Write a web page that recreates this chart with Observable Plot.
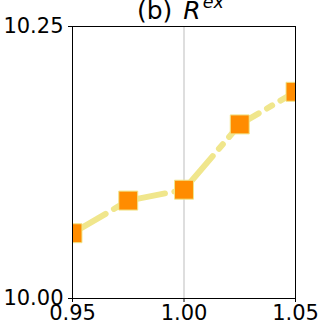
<!DOCTYPE html>
<html>
<head>
<meta charset="utf-8">
<script src="https://cdn.jsdelivr.net/npm/d3@7"></script>
<script src="https://cdn.jsdelivr.net/npm/@observablehq/plot@0.6"></script>
<style>
  html, body { margin: 0; padding: 0; background: #fff; }
  #chart svg { display: block; }
</style>
</head>
<body>
<div id="chart"></div>
<script>
const xValues = [0.95, 0.975, 1.00, 1.025, 1.05];
const yValues = [10.060, 10.090, 10.100, 10.160, 10.190];
const xTicks = [0.95, 1.00, 1.05];
const yTicks = [10.00, 10.25];
const titlePrefix = "(b) ";
const titleMain = "R";
const titleSup = "ex";

const data = xValues.map((x, i) => ({x, y: yValues[i]}));

const chart = Plot.plot({
  width: 320,
  height: 327,
  marginLeft: 72,
  marginRight: 25,
  marginTop: 26,
  marginBottom: 29,
  style: {fontFamily: "DejaVu Sans", fontSize: "21px", color: "#000", background: "#fff", overflow: "visible"},
  x: {domain: [0.95, 1.05], ticks: xTicks, tickFormat: d3.format(".2f"), tickSize: 4, tickPadding: 3, label: null},
  y: {domain: [10.00, 10.25], ticks: yTicks, tickFormat: d3.format(".2f"), tickSize: 4, tickPadding: 5, label: null},
  marks: [
    Plot.ruleX([1.00], {stroke: "#d3d3d3", strokeWidth: 1.5}),
    Plot.line(data, {x: "x", y: "y", stroke: "#F0E68C", strokeWidth: 6, strokeDasharray: "38.4,9.6,6,9.6", clip: true}),
    Plot.dot(data, {x: "x", y: "y", symbol: "square", r: 10.7, fill: "#FF8C00", stroke: "#F0E68C", strokeWidth: 1, clip: true}),
    Plot.frame({stroke: "#000", strokeWidth: 1})
  ]
});

const svg = d3.select(chart);
const t = svg.append("text")
  .attr("x", 137)
  .attr("y", 19)
  .attr("text-anchor", "start")
  .attr("font-family", "DejaVu Sans")
  .attr("font-size", 25)
  .attr("fill", "#000");
t.append("tspan").text(titlePrefix);
t.append("tspan").attr("font-style", "italic").attr("dx", 3).text(titleMain);
t.append("tspan").attr("font-style", "italic").attr("font-size", 17.5).attr("dx", 2).attr("dy", -11).text(titleSup);

document.getElementById("chart").appendChild(chart);
</script>
</body>
</html>
